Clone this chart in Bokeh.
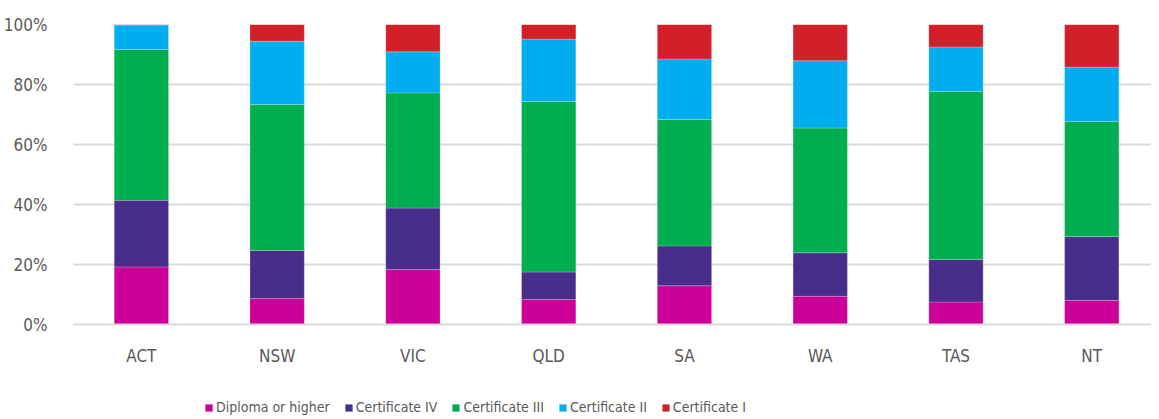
from bokeh.plotting import figure
from bokeh.layouts import column
from bokeh.models import Range1d, FixedTicker, Legend, LegendItem, NumeralTickFormatter, ColumnDataSource
from bokeh.embed import file_html
from bokeh.resources import INLINE

states = ["ACT", "NSW", "VIC", "QLD", "SA", "WA", "TAS", "NT"]
series = ["Diploma or higher", "Certificate IV", "Certificate III", "Certificate II", "Certificate I"]
diploma = [19.2, 8.7, 18.3, 8.3, 12.9, 9.4, 7.5, 8.0]
cert4 = [22.2, 16.0, 20.5, 9.2, 13.3, 14.5, 14.2, 21.3]
cert3 = [50.3, 48.6, 38.4, 56.8, 42.1, 41.6, 56.0, 38.4]
cert2 = [8.1, 21.1, 13.7, 20.8, 20.2, 22.4, 14.8, 18.1]
cert1 = [0.2, 5.6, 9.1, 4.9, 11.5, 12.1, 7.5, 14.2]
colors = ["#CC0099", "#482D8B", "#00AD4F", "#00AEEF", "#D12027"]

FONT = "DejaVu Sans Condensed"
GREY = "#595959"

values = [diploma, cert4, cert3, cert2, cert1]
x = list(range(len(states)))

p = figure(width=1151, height=370, output_backend="svg", toolbar_location=None,
           x_range=Range1d(-0.5, 7.44), y_range=Range1d(0, 1),
           min_border_left=65, min_border_right=0, min_border_top=24, min_border_bottom=46)
p.outline_line_color = None

bottom = [0.0] * len(states)
for name, vals, col in zip(series, values, colors):
    top = [b + v / 100.0 for b, v in zip(bottom, vals)]
    src = ColumnDataSource(dict(x=x, bottom=bottom, top=top))
    p.vbar(x="x", bottom="bottom", top="top", width=0.4, source=src,
           fill_color=col, line_color="white", line_alpha=0.35, line_width=0.6)
    bottom = top

# axes
p.xaxis.ticker = FixedTicker(ticks=x)
p.xaxis.major_label_overrides = {i: s for i, s in enumerate(states)}
p.xaxis.axis_line_color = "#D9D9D9"
p.xaxis.axis_line_width = 2
p.xaxis.major_tick_line_color = None
p.xaxis.minor_tick_line_color = None
p.xaxis.major_label_standoff = 15
p.xaxis.major_label_text_font = FONT
p.xaxis.major_label_text_font_size = "17px"
p.xaxis.major_label_text_color = GREY

p.yaxis.ticker = FixedTicker(ticks=[0, 0.2, 0.4, 0.6, 0.8, 1.0])
p.yaxis.formatter = NumeralTickFormatter(format="0%")
p.yaxis.axis_line_color = None
p.yaxis.major_tick_line_color = None
p.yaxis.minor_tick_line_color = None
p.yaxis.major_label_standoff = 20
p.yaxis.major_label_text_font = FONT
p.yaxis.major_label_text_font_size = "17px"
p.yaxis.major_label_text_color = GREY

p.xgrid.grid_line_color = None
p.ygrid.ticker = FixedTicker(ticks=[0.2, 0.4, 0.6, 0.8, 1.0])
p.ygrid.grid_line_color = "#D9D9D9"
p.ygrid.grid_line_width = 2

# legend strip as a separate, axis-less figure (swatch renderers are zero-height bars)
lg = figure(width=1151, height=49, output_backend="svg", toolbar_location=None,
            x_range=Range1d(0, 1), y_range=Range1d(0, 1), x_axis_type=None, y_axis_type=None,
            min_border=0)
lg.outline_line_color = None
lg.grid.visible = False
items = []
for name, col in zip(series, colors):
    r = lg.vbar(x=[0.5], bottom=[0], top=[0], width=0.0, fill_color=col, line_color=None)
    items.append(LegendItem(label=name, renderers=[r]))

legend = Legend(items=items, orientation="horizontal", location=(131, 4),
                glyph_width=9, glyph_height=9, label_standoff=3, spacing=14,
                padding=0, margin=0, border_line_color=None, background_fill_alpha=0,
                label_text_font=FONT, label_text_font_size="14px", label_text_color=GREY)
lg.add_layout(legend, "center")

layout = column(p, lg, spacing=0)
open("out.html", "w").write(file_html(layout, INLINE))
